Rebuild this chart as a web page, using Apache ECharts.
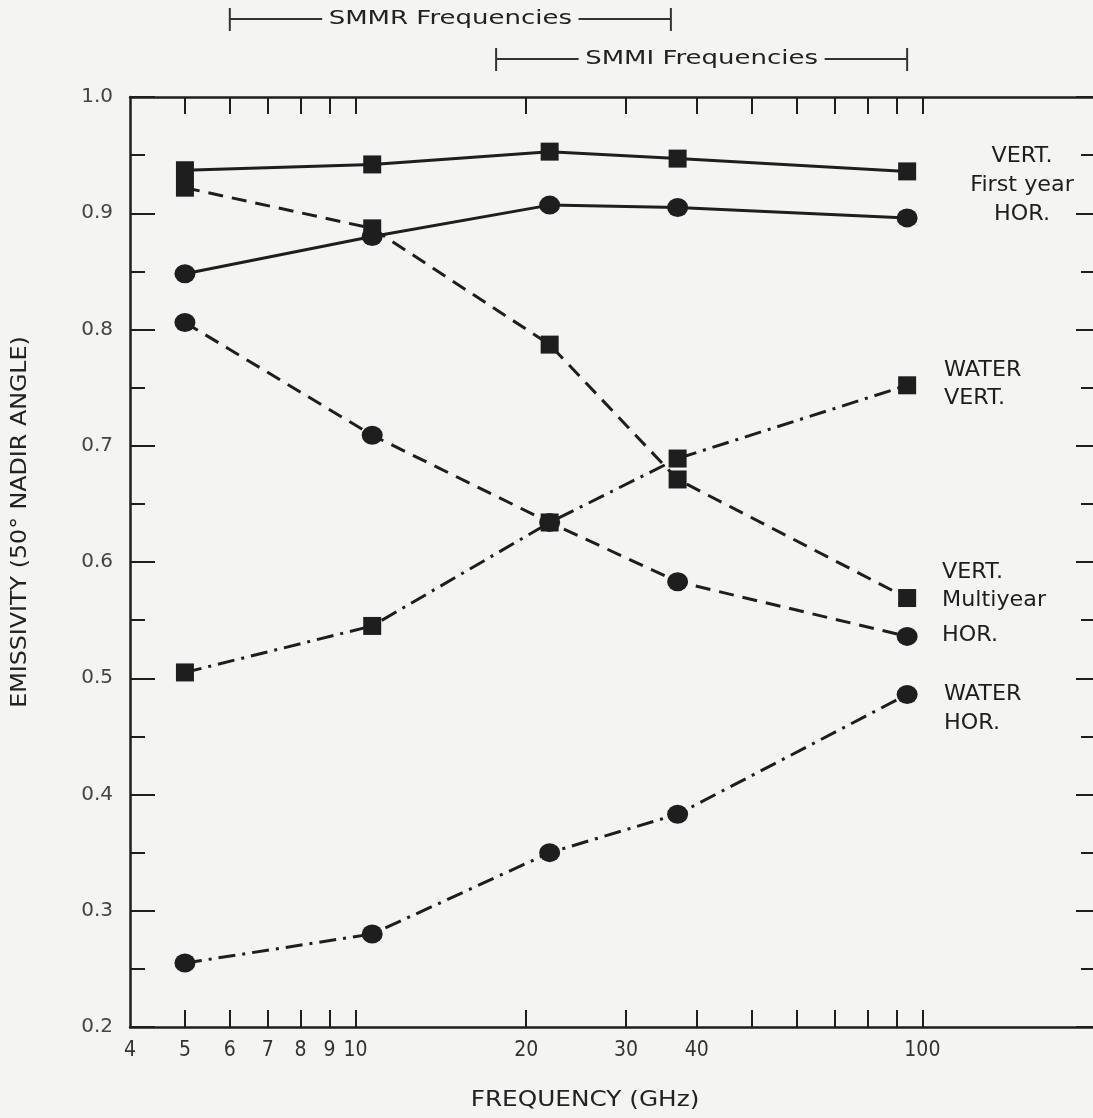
<!DOCTYPE html>
<html lang="en">
<head>
<meta charset="UTF-8">
<title>Emissivity vs frequency</title>
<script src="https://cdn.jsdelivr.net/npm/echarts@6/dist/echarts.min.js"></script>
<style>
  html, body {margin:0; padding:0; background:#f4f4f2;}
  #chart {width:1093px; height:1118px;}
</style>
</head>
<body>
<div id="chart"></div>
<script>
// frequencies (GHz) of the plotted points
const freqs = [5, 10.7, 22, 37, 94];
// emissivity at 50 deg nadir angle
const firstYearV = [0.937, 0.942, 0.953, 0.947, 0.936];
const firstYearH = [0.848, 0.880, 0.907, 0.905, 0.896];
const multiYearV = [0.922, 0.887, 0.787, 0.671, 0.569];
const multiYearH = [0.806, 0.709, 0.634, 0.583, 0.536];
const waterV = [0.505, 0.545, 0.634, 0.689, 0.752];
const waterH = [0.255, 0.280, 0.350, 0.383, 0.486];

// axis ticks / labels
const xTickFreqs = [5, 6, 7, 8, 9, 10, 20, 30, 40, 50, 60, 70, 80, 90, 100];
const xLabelFreqs = [4, 5, 6, 7, 8, 9, 10, 20, 30, 40, 100];
const smmrRange = [6, 36];
const ssmiRange = [17.7, 94];

const ink = '#1e1e1e';
const xMin = 4, xMax = 200;
const lg = v => Math.log10(v);

const chart = echarts.init(document.getElementById('chart'));

function mkSeries(name, vals, symbol, dash) {
  return {
    name: name,
    type: 'line',
    xAxisIndex: 0,
    yAxisIndex: 0,
    data: freqs.map((f, i) => [f, vals[i]]),
    symbol: symbol,
    symbolSize: symbol === 'rect' ? 18 : [21, 19],
    itemStyle: {color: ink},
    lineStyle: {color: ink, width: 3, type: dash},
    animation: false,
    z: symbol === 'circle' ? 3 : 2
  };
}

const tickAxis = (pos, showLabel) => ({
  type: 'value',
  position: pos,
  min: lg(xMin),
  max: lg(xMax),
  axisLine: {show: true, onZero: false, lineStyle: {color: ink, width: 2.5}},
  axisTick: {show: true, inside: true, length: 17, customValues: xTickFreqs.map(lg),
             lineStyle: {color: ink, width: 2}},
  axisLabel: {show: showLabel, customValues: xLabelFreqs.map(lg), margin: 13,
              formatter: v => String(Math.round(Math.pow(10, v))),
              fontFamily: 'DejaVu Sans Condensed', fontSize: 21, color: '#333'},
  splitLine: {show: false}
});

const yAx = (pos, showLabel) => ({
  type: 'value',
  position: pos,
  min: 0.2, max: 1.0, interval: 0.1,
  axisLine: {show: showLabel, onZero: false, lineStyle: {color: ink, width: 2.5}},
  axisTick: {show: true, inside: true, length: showLabel ? 25 : 17, lineStyle: {color: ink, width: 2}},
  minorTick: {show: true, splitNumber: 2, length: showLabel ? 15 : 12, lineStyle: {color: ink, width: 2}},
  axisLabel: {show: showLabel, margin: 17, formatter: v => v.toFixed(1),
              fontFamily: 'DejaVu Sans', fontSize: 20, color: '#444'},
  splitLine: {show: false}
});

const txtFont = '21px "DejaVu Sans"';
function label(text, x, y, align) {
  return {type: 'text', x: x, y: y, scaleX: 1.06, silent: true,
          style: {text: text, font: txtFont, fill: ink, align: align || 'left', verticalAlign: 'middle'}};
}

chart.setOption({
  backgroundColor: '#f4f4f2',
  animation: false,
  grid: {left: 130, top: 97, width: 967, height: 930},
  xAxis: [
    {type: 'log', logBase: 10, min: xMin, max: xMax, show: false},
    tickAxis('bottom', true),
    tickAxis('top', false)
  ],
  yAxis: [yAx('left', true), yAx('right', false)],
  series: [
    mkSeries('First year VERT.', firstYearV, 'rect', 'solid'),
    mkSeries('First year HOR.', firstYearH, 'circle', 'solid'),
    mkSeries('Multiyear VERT.', multiYearV, 'rect', [15, 9]),
    mkSeries('Multiyear HOR.', multiYearH, 'circle', [15, 9]),
    mkSeries('WATER VERT.', waterV, 'rect', [17, 7, 3, 7]),
    mkSeries('WATER HOR.', waterH, 'circle', [17, 7, 3, 7])
  ]
});

// frequency brackets above the plot, placed through the log axis
function bracket(range, y, text) {
  const x0 = chart.convertToPixel({xAxisIndex: 0}, range[0]);
  const x1 = chart.convertToPixel({xAxisIndex: 0}, range[1]);
  const st = {stroke: '#333', lineWidth: 2};
  return [
    {type: 'line', shape: {x1: x0, y1: y, x2: x1, y2: y}, style: st, silent: true},
    {type: 'line', shape: {x1: x0, y1: y - 11, x2: x0, y2: y + 12}, style: st, silent: true},
    {type: 'line', shape: {x1: x1, y1: y - 11, x2: x1, y2: y + 12}, style: st, silent: true},
    {type: 'text', x: (x0 + x1) / 2, y: y, scaleX: 1.3, silent: true, z: 10,
     style: {text: text, font: '20px "DejaVu Sans"', fill: '#222', align: 'center', verticalAlign: 'middle',
             backgroundColor: '#f4f4f2', padding: [0, 5]}}
  ];
}

chart.setOption({
  graphic: [].concat(
    bracket(smmrRange, 19, 'SMMR Frequencies'),
    bracket(ssmiRange, 59, 'SMMI Frequencies'),
    [
      label('VERT.', 1022, 157, 'center'),
      label('First year', 1022, 186, 'center'),
      label('HOR.', 1022, 215, 'center'),
      label('WATER', 944, 371),
      label('VERT.', 944, 399),
      label('VERT.', 942, 573),
      label('Multiyear', 942, 601),
      label('HOR.', 942, 636),
      label('WATER', 944, 695),
      label('HOR.', 944, 724),
      {type: 'text', x: 20, y: 522, rotation: Math.PI / 2, scaleX: 1.2, silent: true,
       style: {text: 'EMISSIVITY (50\u00b0 NADIR ANGLE)', font: '22px "DejaVu Sans Condensed"', fill: '#222',
               align: 'center', verticalAlign: 'middle'}},
      {type: 'text', x: 585, y: 1100, scaleX: 1.25, silent: true,
       style: {text: 'FREQUENCY (GHz)', font: '22px "DejaVu Sans Condensed"', fill: '#222',
               align: 'center', verticalAlign: 'middle'}}
    ]
  )
});
</script>
</body>
</html>
